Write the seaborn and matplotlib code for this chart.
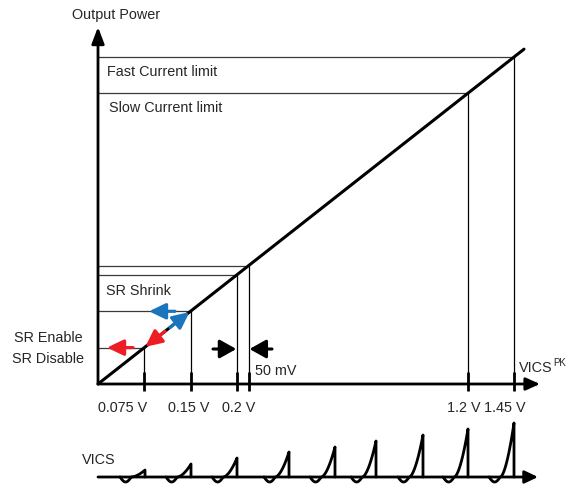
import numpy as np
import seaborn as sns
import matplotlib.pyplot as plt

# diagram units: origin at the axis corner, 1 unit ~ 1 px
SLOPE = 0.786           # output power vs VICS_PK line
LINE_END = 426

# VICS_PK thresholds along the x axis
tick_labels = ["0.075 V", "0.15 V", "0.2 V", "1.2 V", "1.45 V"]
tick_x = [46.3, 92.5, 139.3, 370.0, 416.0]
label_x = [25, 91, 141, 366, 407]
shrink_hi_x = 150.5      # 0.2 V + 50 mV

# x of each level line where it meets the diagonal
level_x = [46.3, 92.5, 139.3, 150.5, 370.0, 416.0]

# VICS pulses below the chart
pulse_peak_x = [47, 93, 139, 191, 237, 278, 325, 370, 416]
pulse_height = [7, 13, 19, 25, 30, 36, 42, 48, 54]
PULSE_W = 25
PULSE_DIP = 5
VICS_Y = -93

RED = "#ee1c25"
BLUE = "#1c75bc"
GRAY = "#3a3a3a"
FS = 10.4

sns.set_theme(style="white")
plt.rcParams["font.family"] = ["Liberation Sans", "DejaVu Sans"]

fig = plt.figure(figsize=(5.71, 4.89), dpi=100)
ax = fig.add_axes([0, 0, 1, 1])
ax.set_xlim(-98, 473)
ax.set_ylim(-104, 385)
ax.axis("off")


def arrow(x0, y0, x1, y1, color="black", lw=2.0, hl=0.85, hw=0.45):
    ax.annotate("", xy=(x1, y1), xytext=(x0, y0),
                arrowprops=dict(arrowstyle=f"-|>,head_length={hl},head_width={hw}",
                                color=color, lw=lw, shrinkA=0, shrinkB=0,
                                mutation_scale=10))


# thin level / threshold lines
for lx in level_x:
    ly = SLOPE * lx
    ax.plot([0, lx], [ly, ly], color=GRAY, lw=0.9)
    ax.plot([lx, lx], [ly, 0], color="black", lw=0.9)

# diagonal
sns.lineplot(x=[0, LINE_END], y=[0, SLOPE * LINE_END], ax=ax, color="black",
             lw=2.2, sort=False, estimator=None)

# axes with arrow heads
arrow(0, 0, 0, 357, hl=1.0, hw=0.38)
arrow(0, 0, 442, 0, hl=0.85, hw=0.38)

# thick tick marks
for tx in tick_x + [shrink_hi_x]:
    ax.plot([tx, tx], [12, -7], color="black", lw=2.0, solid_capstyle="butt")
for lx, lab in zip(label_x, tick_labels):
    ax.text(lx, -23, lab, ha="center", va="center", fontsize=FS)

# SR hysteresis arrows
y_dis = SLOPE * tick_x[0]
y_en = SLOPE * tick_x[1]
hk = dict(lw=2.3, hl=1.0, hw=0.48)
arrow(35, y_dis, 9, y_dis, color=RED, **hk)
arrow(67, SLOPE * 67, tick_x[0] + 1, SLOPE * (tick_x[0] + 1), color=RED, **hk)
arrow(77, y_en, 51, y_en, color=BLUE, **hk)
arrow(72, SLOPE * 72, tick_x[1] - 1, SLOPE * (tick_x[1] - 1), color=BLUE, **hk)

# 50 mV arrows
arrow(115, 35, tick_x[2] - 1, 35, lw=2.2, hl=1.0, hw=0.56)
arrow(174, 35, shrink_hi_x + 1, 35, lw=2.2, hl=1.0, hw=0.56)

# texts
ax.text(-26, 370, "Output Power", ha="left", va="center", fontsize=FS)
ax.text(9, 313, "Fast Current limit", ha="left", va="center", fontsize=FS)
ax.text(11, 277, "Slow Current limit", ha="left", va="center", fontsize=FS)
ax.text(8, 94, "SR Shrink", ha="left", va="center", fontsize=FS)
ax.text(-15, 47, "SR Enable", ha="right", va="center", fontsize=FS)
ax.text(-14, 26, "SR Disable", ha="right", va="center", fontsize=FS)
ax.text(157, 14, "50 mV", ha="left", va="center", fontsize=FS)
ax.text(421, 17, "VICS", ha="left", va="center", fontsize=FS)
ax.text(455, 22, "PK", ha="left", va="center", fontsize=7)

# VICS waveform
arrow(0, VICS_Y, 440, VICS_Y, hl=0.8, hw=0.38)
ax.text(-16, -75, "VICS", ha="left", va="center", fontsize=FS)
t = np.linspace(0, 1, 60)
for px, h in zip(pulse_peak_x, pulse_height):
    x0 = px - PULSE_W
    dip = t[t <= 0.45]
    rise = t[t > 0.45]
    yd = -PULSE_DIP * np.sin(np.pi * dip / 0.45)
    yr = h * ((rise - 0.45) / 0.55) ** 1.7
    xs = np.concatenate([x0 + PULSE_W * dip, x0 + PULSE_W * rise, [px]])
    ys = np.concatenate([yd, yr, [0]]) + VICS_Y
    sns.lineplot(x=xs, y=ys, ax=ax, color="black", lw=2.0, sort=False,
                 estimator=None)

fig.savefig("out.png", dpi=100)
